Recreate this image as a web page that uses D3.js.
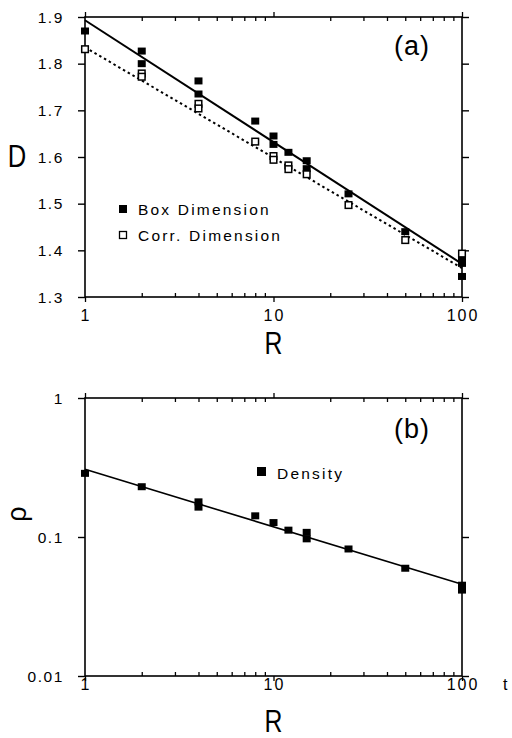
<!DOCTYPE html>
<html>
<head>
<meta charset="utf-8">
<script src="https://cdn.jsdelivr.net/npm/d3@7"></script>
<style>
  html, body { margin: 0; padding: 0; background: #fff; }
  svg { display: block; }
  text { font-family: "Liberation Sans", Arial, Helvetica, sans-serif; fill: #000; }
</style>
</head>
<body>
<svg id="chart" width="512" height="738"></svg>
<script>
// ---- data ----
// Panel (a): fractal dimension D versus R
const boxR = [1, 2, 2, 4, 4, 8, 10, 10, 12, 15, 15, 25, 50, 100, 100, 100];
const boxD = [1.870, 1.827, 1.800, 1.763, 1.735, 1.677, 1.645, 1.627, 1.610, 1.592, 1.575, 1.521, 1.440, 1.385, 1.372, 1.344];
const corrR = [1, 2, 2, 4, 4, 8, 10, 10, 12, 12, 15, 25, 50, 100];
const corrD = [1.831, 1.779, 1.772, 1.714, 1.704, 1.633, 1.602, 1.594, 1.582, 1.574, 1.563, 1.497, 1.422, 1.393];
// fitted power-law lines (end points)
const boxFitR = [1, 100];
const boxFitD = [1.893, 1.371];
const corrFitR = [1, 100];
const corrFitD = [1.835, 1.362];

// Panel (b): density rho versus R
const densR = [1, 2, 4, 4, 8, 10, 12, 15, 15, 25, 50, 100, 100];
const densRho = [0.287, 0.230, 0.179, 0.164, 0.142, 0.127, 0.112, 0.108, 0.097, 0.082, 0.0596, 0.045, 0.0415];
const densFitR = [1, 100];
const densFitRho = [0.307, 0.0457];

// axis ticks and labels
const xMajor = [1, 10, 100];
const xMajorLabels = ["1", "10", "100"];
const xMinor = [2, 3, 4, 5, 6, 7, 8, 9, 20, 30, 40, 50, 60, 70, 80, 90];
const dTicks = [1.3, 1.4, 1.5, 1.6, 1.7, 1.8, 1.9];
const dTickLabels = ["1.3", "1.4", "1.5", "1.6", "1.7", "1.8", "1.9"];
const rhoTicks = [0.01, 0.1, 1];
const rhoTickLabels = ["0.01", "0.1", "1"];

// ---- layout ----
const svg = d3.select("#chart");
const X0 = 85, X1 = 462;

const x = d3.scaleLog().domain([1, 100]).range([X0, X1]);
const yA = d3.scaleLinear().domain([1.3, 1.9]).range([297, 17]);
const yB = d3.scaleLog().domain([0.01, 1]).range([676, 398]);

const zip = (a, b) => a.map((v, i) => [v, b[i]]);

function frame(g, y, yTicks, yLabels, xLabelY, titleY) {
  const [yb, yt] = y.range();
  // box
  g.append("rect").attr("x", X0).attr("y", yt).attr("width", X1 - X0).attr("height", yb - yt)
    .attr("fill", "none").attr("stroke", "#000").attr("stroke-width", 1.6);

  // x axes: bottom and top
  const axB = d3.axisBottom(x).tickValues(xMajor).tickSizeInner(5).tickSizeOuter(0).tickFormat(() => "");
  const axT = d3.axisTop(x).tickValues(xMajor).tickSizeInner(5).tickSizeOuter(0).tickFormat(() => "");
  const mnB = d3.axisBottom(x).tickValues(xMinor).tickSizeInner(-4).tickSizeOuter(0).tickFormat(() => "");
  const mnT = d3.axisTop(x).tickValues(xMinor).tickSizeInner(-4).tickSizeOuter(0).tickFormat(() => "");
  [[axB, yb], [axT, yt], [mnB, yb], [mnT, yt]].forEach(([ax, yy]) => {
    const a = g.append("g").attr("transform", `translate(0,${yy})`).call(ax);
    a.select(".domain").remove();
    a.selectAll("line").attr("stroke", "#000").attr("stroke-width", 1.3);
  });

  // y axes: left and right
  const axL = d3.axisLeft(y).tickValues(yTicks).tickSizeInner(7).tickSizeOuter(0).tickFormat(() => "");
  const axR = d3.axisRight(y).tickValues(yTicks).tickSizeInner(7).tickSizeOuter(0).tickFormat(() => "");
  [[axL, X0], [axR, X1]].forEach(([ax, xx]) => {
    const a = g.append("g").attr("transform", `translate(${xx},0)`).call(ax);
    a.select(".domain").remove();
    a.selectAll("line").attr("stroke", "#000").attr("stroke-width", 1.4);
  });

  // tick labels
  g.append("g").selectAll("text").data(yTicks).join("text")
    .attr("x", 64).attr("y", d => y(d) + 5.5)
    .attr("text-anchor", "end").attr("font-size", 15.5).attr("letter-spacing", 1.6)
    .text((d, i) => yLabels[i]);
  g.append("g").selectAll("text").data(xMajor).join("text")
    .attr("x", d => x(d) + 1).attr("y", xLabelY)
    .attr("text-anchor", "middle").attr("font-size", 16).attr("letter-spacing", 2)
    .text((d, i) => xMajorLabels[i]);

  // x axis title
  g.append("text").attr("transform", `translate(${x(10)},${titleY}) scale(0.8,1)`)
    .attr("text-anchor", "middle").attr("font-size", 31).text("R");
}

// ---------- panel (a) ----------
const gA = svg.append("g");
frame(gA, yA, dTicks, dTickLabels, 321, 354);

const line = (yS) => d3.line().x(d => x(d[0])).y(d => yS(d[1]));

gA.append("path").datum(zip(boxFitR, boxFitD)).attr("d", line(yA))
  .attr("fill", "none").attr("stroke", "#000").attr("stroke-width", 2);
gA.append("path").datum(zip(corrFitR, corrFitD)).attr("d", line(yA))
  .attr("fill", "none").attr("stroke", "#000").attr("stroke-width", 2)
  .attr("stroke-dasharray", "2.5,3");

const S = 8;
gA.append("g").selectAll("rect").data(zip(boxR, boxD)).join("rect")
  .attr("x", d => x(d[0]) - S / 2).attr("y", d => yA(d[1]) - 3.5)
  .attr("width", S).attr("height", 7).attr("fill", "#000");
gA.append("g").selectAll("rect").data(zip(corrR, corrD)).join("rect")
  .attr("x", d => x(d[0]) - 3.3).attr("y", d => yA(d[1]) - 3.3)
  .attr("width", 6.6).attr("height", 6.6).attr("fill", "#fff")
  .attr("stroke", "#000").attr("stroke-width", 1.5);

// legend
gA.append("rect").attr("x", 119).attr("y", 205).attr("width", 8).attr("height", 8).attr("fill", "#000");
gA.append("text").attr("x", 138).attr("y", 215).attr("font-size", 15.5).attr("letter-spacing", 2.2)
  .text("Box Dimension");
gA.append("rect").attr("x", 119.5).attr("y", 231.5).attr("width", 7).attr("height", 7)
  .attr("fill", "#fff").attr("stroke", "#000").attr("stroke-width", 1.3);
gA.append("text").attr("x", 138).attr("y", 241).attr("font-size", 15.5).attr("letter-spacing", 2.2)
  .text("Corr.  Dimension");

gA.append("text").attr("x", 394).attr("y", 55).attr("font-size", 27).attr("letter-spacing", 1)
  .text("(a)");
gA.append("text").attr("transform", "translate(17,167) scale(0.8,1)")
  .attr("text-anchor", "middle").attr("font-size", 32).text("D");

// ---------- panel (b) ----------
const gB = svg.append("g");
frame(gB, yB, rhoTicks, rhoTickLabels, 690, 732);

gB.append("path").datum(zip(densFitR, densFitRho)).attr("d", line(yB))
  .attr("fill", "none").attr("stroke", "#000").attr("stroke-width", 1.6);
gB.append("g").selectAll("rect").data(zip(densR, densRho)).join("rect")
  .attr("x", d => x(d[0]) - S / 2).attr("y", d => yB(d[1]) - 3.5)
  .attr("width", S).attr("height", 7).attr("fill", "#000");

gB.append("rect").attr("x", 257).attr("y", 467).attr("width", 9).attr("height", 9).attr("fill", "#000");
gB.append("text").attr("x", 277).attr("y", 479).attr("font-size", 15.5).attr("letter-spacing", 2.2)
  .text("Density");

gB.append("text").attr("x", 394).attr("y", 438).attr("font-size", 27).attr("letter-spacing", 1)
  .text("(b)");
gB.append("text").attr("transform", "translate(26,514) rotate(-90)")
  .attr("text-anchor", "middle").attr("font-size", 27).text("ρ");

// stray glyph at the right margin
svg.append("text").attr("x", 503).attr("y", 690).attr("font-size", 16).text("t");
</script>
</body>
</html>
